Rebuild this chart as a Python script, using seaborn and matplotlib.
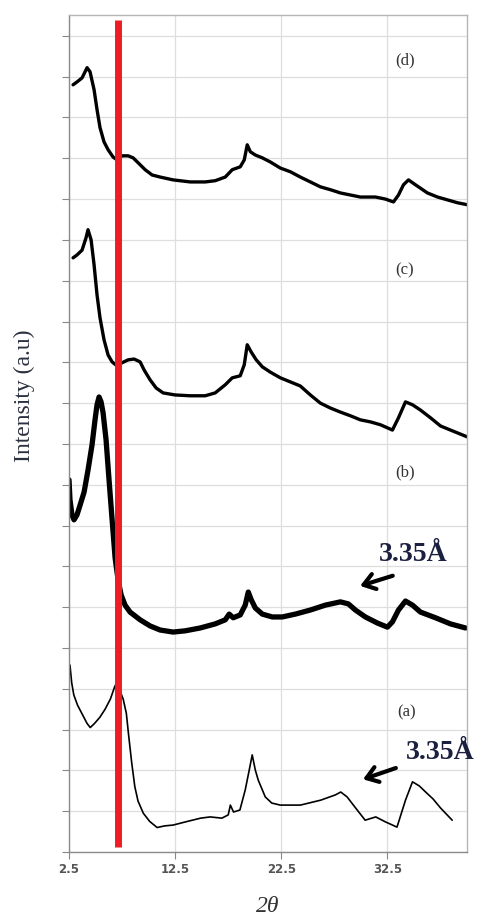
import matplotlib
matplotlib.use("Agg")
import matplotlib.pyplot as plt
import numpy as np
import pandas as pd
import seaborn as sns

# XRD patterns, 2theta vs intensity (a.u.), traces stacked with offsets
two_theta_d = [2.88, 3.25, 3.73, 4.20, 4.48, 4.86, 5.14, 5.42, 5.80, 6.18, 6.65, 7.03, 7.50,
               8.07, 8.54, 9.01, 9.67, 10.33, 11.08, 12.31, 13.92, 15.33, 16.27, 17.22,
               17.88, 18.63, 19.01, 19.29, 19.58, 20.05, 20.71, 21.46, 22.41, 23.35, 24.29,
               25.24, 26.18, 27.12, 28.07, 29.01, 29.95, 31.37, 32.31, 33.07, 33.54, 34.01,
               34.48, 35.14, 36.27, 37.22, 38.16, 39.10, 40.05]
intensity_d = [18.80, 18.87, 18.97, 19.22, 19.12, 18.68, 18.19, 17.75, 17.40, 17.21, 17.03,
               16.96, 17.06, 17.06, 17.01, 16.89, 16.72, 16.59, 16.54, 16.47, 16.42, 16.42,
               16.45, 16.54, 16.72, 16.79, 16.96, 17.33, 17.16, 17.08, 17.01, 16.91, 16.76,
               16.67, 16.54, 16.42, 16.30, 16.23, 16.15, 16.10, 16.05, 16.05, 16.00, 15.93,
               16.10, 16.35, 16.47, 16.35, 16.15, 16.05, 15.98, 15.91, 15.86]

two_theta_c = [2.88, 3.25, 3.73, 4.10, 4.29, 4.58, 4.86, 5.14, 5.42, 5.80, 6.18, 6.56, 7.03,
               7.50, 8.07, 8.63, 9.20, 9.58, 10.14, 10.71, 11.37, 12.50, 13.92, 15.33, 16.27,
               17.22, 17.88, 18.63, 19.01, 19.29, 19.67, 20.14, 20.71, 21.46, 22.41, 23.35,
               24.29, 25.24, 26.18, 27.12, 28.07, 29.01, 29.95, 30.90, 31.84, 32.97, 33.54,
               34.20, 34.86, 35.61, 36.56, 37.50, 38.44, 40.05]
intensity_c = [14.56, 14.63, 14.75, 15.05, 15.25, 15.00, 14.39, 13.65, 13.09, 12.55, 12.18,
               12.01, 11.91, 11.99, 12.06, 12.08, 12.01, 11.81, 11.57, 11.37, 11.25, 11.20,
               11.18, 11.18, 11.25, 11.45, 11.62, 11.67, 11.94, 12.43, 12.25, 12.06, 11.89,
               11.76, 11.62, 11.52, 11.42, 11.20, 11.00, 10.88, 10.78, 10.69, 10.59, 10.54,
               10.47, 10.34, 10.64, 11.03, 10.96, 10.83, 10.64, 10.44, 10.34, 10.17]

two_theta_b = [2.50, 2.59, 2.78, 2.97, 3.25, 3.54, 3.92, 4.29, 4.67, 4.95, 5.14, 5.33, 5.52,
               5.71, 5.99, 6.27, 6.56, 6.84, 7.12, 7.41, 7.78, 8.25, 9.20, 10.14, 11.08,
               12.31, 13.44, 14.86, 16.27, 17.22, 17.59, 17.97, 18.63, 19.10, 19.39, 19.67,
               20.05, 20.71, 21.65, 22.59, 23.82, 25.24, 26.65, 28.07, 28.82, 29.48, 30.42,
               31.56, 32.50, 32.97, 33.54, 34.20, 34.86, 35.61, 37.03, 38.44, 39.86]
intensity_b = [9.12, 8.63, 8.26, 8.14, 8.26, 8.50, 8.82, 9.36, 9.98, 10.59, 10.96, 11.15,
               11.03, 10.76, 10.10, 9.12, 8.14, 7.21, 6.67, 6.30, 6.05, 5.88, 5.69, 5.54,
               5.44, 5.39, 5.42, 5.49, 5.59, 5.69, 5.83, 5.74, 5.81, 6.05, 6.37, 6.18, 5.98,
               5.83, 5.76, 5.76, 5.83, 5.93, 6.05, 6.13, 6.08, 5.93, 5.76, 5.61, 5.51, 5.64,
               5.93, 6.15, 6.05, 5.88, 5.74, 5.59, 5.49]

two_theta_a = [2.59, 2.75, 2.95, 3.30, 3.80, 4.20, 4.50, 4.90, 5.40, 5.90, 6.40, 6.80, 7.00,
               7.30, 7.60, 7.90, 8.10, 8.40, 8.70, 9.00, 9.50, 10.10, 10.80, 11.50, 12.30,
               13.50, 14.90, 15.80, 16.90, 17.50, 17.70, 18.00, 18.60, 19.10, 19.48, 19.76,
               20.05, 20.33, 20.99, 21.60, 22.40, 24.30, 26.20, 27.60, 28.10, 28.70, 29.50,
               30.40, 31.40, 32.30, 33.40, 34.20, 34.86, 35.50, 36.10, 36.80, 37.50, 38.60]
intensity_a = [4.58, 4.15, 3.85, 3.60, 3.35, 3.15, 3.05, 3.15, 3.30, 3.50, 3.75, 4.05, 4.15,
               3.95, 3.75, 3.40, 2.90, 2.20, 1.60, 1.25, 0.95, 0.75, 0.60, 0.64, 0.66, 0.74,
               0.83, 0.86, 0.83, 0.91, 1.15, 0.98, 1.03, 1.52, 2.01, 2.38, 2.01, 1.76, 1.35,
               1.20, 1.15, 1.15, 1.27, 1.40, 1.47, 1.35, 1.08, 0.78, 0.86, 0.74, 0.61, 1.27,
               1.72, 1.62, 1.47, 1.30, 1.08, 0.78]

x_ticks = [2.5, 12.5, 22.5, 32.5]
ref_line = 7.1  # marked basal reflection
labels = ["(d)", "(c)", "(b)", "(a)"]
label_pos = [(33.2, 19.4), (33.2, 14.25), (33.2, 9.3), (33.4, 3.42)]
ann_text = "3.35Å"
ann_text_pos = [(34.95, 7.28), (37.5, 2.45)]
ann_arrow_tail = [(33.25, 6.79), (33.54, 2.08)]
ann_arrow_tip = [(29.67, 6.50), (29.95, 1.76)]

sns.set_style("whitegrid")
plt.rcParams["font.family"] = ["Liberation Serif", "DejaVu Serif"]

fig = plt.figure(figsize=(4.8, 9.22), dpi=100)
ax = fig.add_axes([0.1438, 0.0759, 0.8292, 0.9078])

traces = [
    (two_theta_d, intensity_d, 2.4),
    (two_theta_c, intensity_c, 2.4),
    (two_theta_b, intensity_b, 3.8),
    (two_theta_a, intensity_a, 1.2),
]
for xs, ys, lw in traces:
    df = pd.DataFrame({"x": xs, "y": ys})
    n_before = len(ax.lines)
    sns.lineplot(data=df, x="x", y="y", ax=ax, color="black", linewidth=lw,
                 sort=False, estimator=None)
    for ln in ax.lines[n_before:]:
        ln.set_solid_joinstyle("round")
        ln.set_solid_capstyle("round")

ax.vlines(ref_line, 0.12, 20.4, color="#ee1c25", linewidth=5, zorder=5)

ax.set_xlim(2.5, 40.0)
ax.set_ylim(0, 20.51)
ax.set_xticks(x_ticks)
ax.set_xticklabels(["2.5", "12.5", "22.5", "32.5"], family="DejaVu Sans",
                   fontweight="bold", color="#555555", fontsize=8.5)
ax.set_yticks(np.arange(0, 21, 1))
ax.set_yticklabels([])
ax.tick_params(axis="y", length=5, color="#888888", width=0.8, left=True)
ax.tick_params(axis="x", length=5, color="#888888", width=0.8, bottom=True, pad=3)
ax.grid(True, color="#dedede", linewidth=0.9)
for s in ax.spines.values():
    s.set_color("#b5b5b5")
    s.set_linewidth(1.0)
ax.spines["left"].set_color("#8a8a8a")
ax.spines["bottom"].set_color("#8a8a8a")

ax.set_xlabel("2θ", fontsize=17, style="italic", color="#333333", labelpad=14)
ax.set_ylabel("Intensity (a.u)", fontsize=17, color="#2a3040")
ax.yaxis.set_label_coords(-0.085, 0.545)

for lab, (lx, ly) in zip(labels, label_pos):
    ax.text(lx, ly, lab, fontsize=12, color="#333333", ha="left", va="center")

for (tx, ty), tail, tip in zip(ann_text_pos, ann_arrow_tail, ann_arrow_tip):
    ax.text(tx, ty, ann_text, fontsize=20, fontweight="bold", color="#1c2040",
            ha="center", va="center")
    ax.annotate("", xy=tip, xytext=tail,
                arrowprops=dict(arrowstyle="->,head_length=0.5,head_width=0.35",
                                color="black", lw=3, mutation_scale=16))

fig.savefig("out.png", dpi=100)
